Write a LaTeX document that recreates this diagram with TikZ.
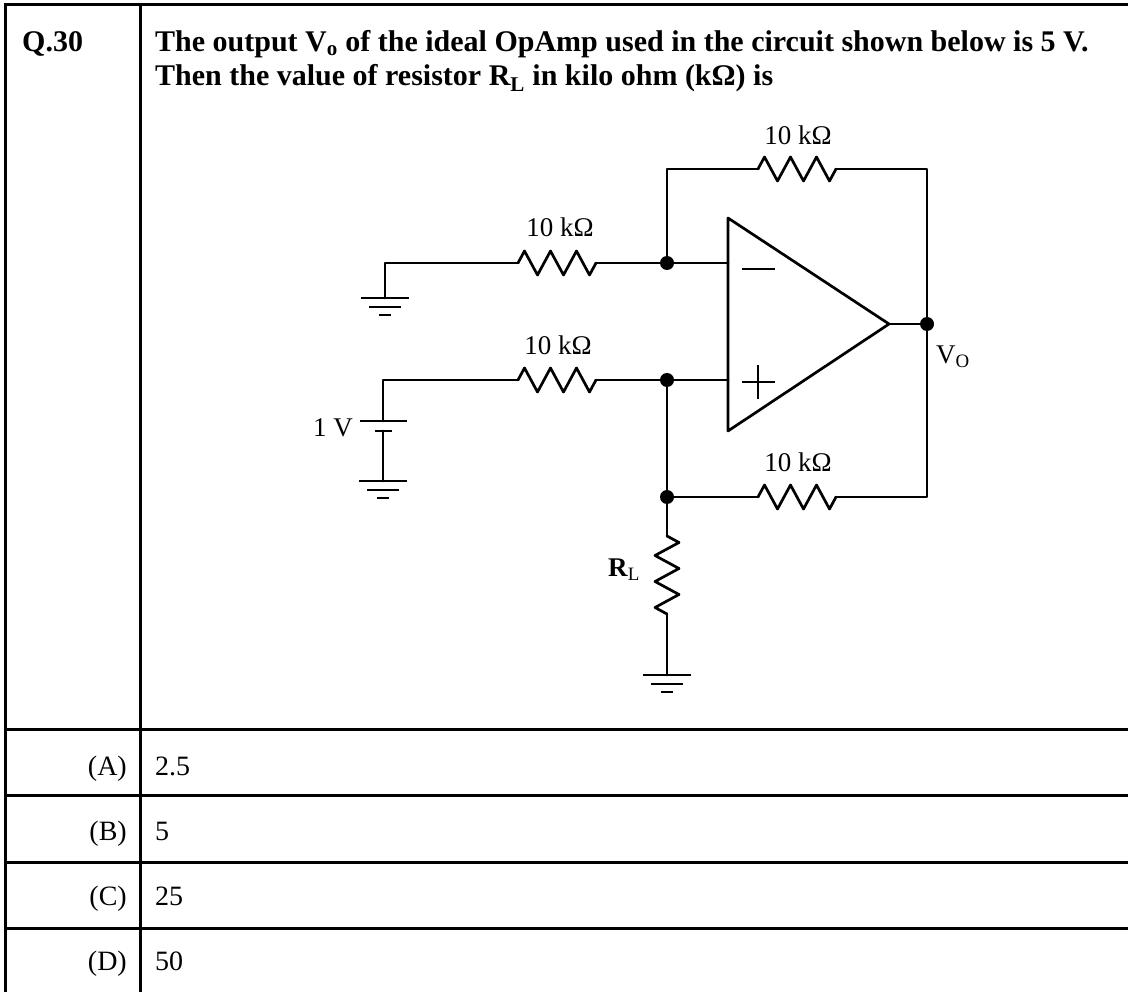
\documentclass[tikz,border=0pt]{standalone}
\usepackage{fontspec}
\setmainfont{Liberation Serif}
\usepackage{tikz}
\usetikzlibrary{positioning}

\begin{document}
\begin{tikzpicture}[x=1pt, y=-1pt,
    wire/.style={line width=2.7pt, line cap=round, line join=round},
    rule/.style={line width=3pt},
    dot/.style={circle, fill, inner sep=0pt, minimum size=14pt},
    reslabel/.style={inner sep=0pt, font=\fontsize{27}{32}\selectfont},
    qtext/.style={inner sep=0pt, anchor=base west, font=\fontsize{30}{34}\selectfont\bfseries},
    opttext/.style={inner sep=0pt, font=\fontsize{28}{32}\selectfont},
    pics/res/.style={code={
        \draw[wire] (-39,0) -- (-32.5,-12) -- (-19.5,12) -- (-6.5,-12) -- (6.5,12) -- (19.5,-12) -- (32.5,12) -- (39,0);
        \coordinate (-w) at (-39,0);
        \coordinate (-e) at (39,0);}},
    pics/gnd/.style={code={
        \draw[wire, line cap=butt] (-24,0) -- (24,0) (-16,9) -- (16,9) (-6,17) -- (6,17);
        \coordinate (-t) at (0,0);}}]

    \useasboundingbox (0,0) rectangle (1128,992);

    % table
    \draw[rule] (1128,5) -- (5,5) -- (5,992);
    \draw[rule] (140,5) -- (140,992);
    \foreach \y in {729,795,862,928} \draw[rule] (5,\y) -- (1128,\y);

    \node[qtext] (qno) at (22,52) {Q.30};
    \node[qtext] (q1) at (155,52) {The output V\textsubscript{o} of the ideal OpAmp used in the circuit shown below is 5 V.};
    \node[qtext] (q2) at (155,86) {Then the value of resistor R\textsubscript{L} in kilo ohm (kΩ) is};

    \foreach \lt/\val/\yb in {A/2.5/775, B/5/840, C/25/905, D/50/970}{
        \node[opttext, anchor=base east] (opt\lt) at (127,\yb) {(\lt)};
        \node[opttext, anchor=base west] (ans\lt) at (155,\yb) {\val};
    }

    % circuit
    \coordinate (nm) at (667,263);
    \coordinate (np) at (667,380);
    \coordinate (nl) at (667,497);
    \coordinate (out) at (927,324);
    \coordinate (inm) at (728,263);
    \coordinate (inp) at (728,380);
    \coordinate (tip) at (889,324);
    \coordinate (batp) at (383,421);
    \coordinate (batn) at (383,431);

    \pic (rin) at (557,263) {res};
    \pic (rfb) at (797,169) {res};
    \pic (rp) at (557,380) {res};
    \pic (rf2) at (797,497) {res};
    \pic[rotate=-90] (rl) at (667,575) {res};

    \draw[wire] (728,218) -- (tip) -- (728,431) -- cycle;
    \draw[line width=1.8pt] (742,269) -- (775,269);
    \draw[line width=1.8pt] (742,382) -- (775,382) (758,365) -- (758,399);

    \pic (g1) at (385,298) {gnd};
    \pic (g2) at (383,481) {gnd};
    \pic (g3) at (667,675) {gnd};

    \draw[wire] (g1-t) -- (385,263) -- (rin-w);
    \draw[wire] (rin-e) -- (nm) -- (inm);
    \draw[wire] (nm) |- (rfb-w);
    \draw[wire] (rfb-e) -| (out);
    \draw[wire] (tip) -- (out);
    \draw[wire] (out) |- (rf2-e);
    \draw[wire] (rf2-w) -- (nl);
    \draw[wire] (rp-e) -- (np) -- (inp);
    \draw[wire] (np) -- (nl) -- (rl-w);
    \draw[wire] (rl-e) -- (g3-t);
    \draw[wire] (rp-w) -| (batp);
    \draw[wire, line cap=butt] (360,421) -- (407,421);
    \draw[wire, line cap=butt] (375,431) -- (392,431);
    \draw[wire] (batn) -- (g2-t);

    \foreach \n in {nm,np,nl,out} \node[dot] (d-\n) at (\n) {};

    \node[reslabel] (lrin) at (560,227) {10 kΩ};
    \node[reslabel] (lrfb) at (798,135) {10 kΩ};
    \node[reslabel] (lrp) at (558,345) {10 kΩ};
    \node[reslabel] (lrf2) at (798,462) {10 kΩ};
    \node[reslabel] (lbat) at (333,428) {1 V};
    \node[reslabel] (lvo) at (953,357) {V\textsubscript{O}};
    \node[reslabel] (lrl) at (624,570) {\textbf{R}\textsubscript{L}};

\end{tikzpicture}
\end{document}
